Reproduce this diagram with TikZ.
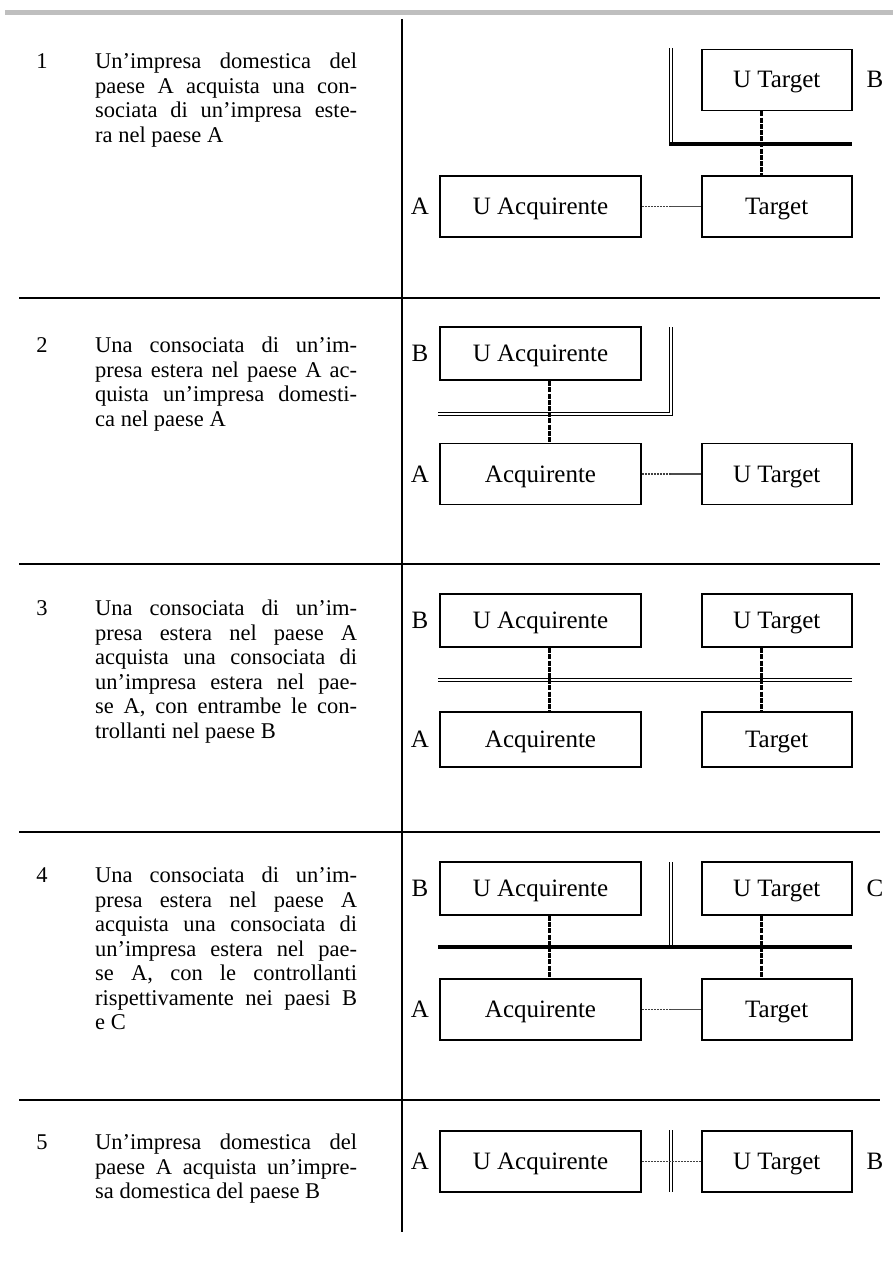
\documentclass[tikz,border=0pt]{standalone}
\usepackage{fontspec}
\setmainfont{Liberation Serif}
\usetikzlibrary{calc}
\tikzset{
  box/.style={draw, line width=1.8pt, inner sep=0pt, font=\fontsize{25}{28}\selectfont, text height=19pt, text depth=3pt},
  lbox/.style={box, minimum width=201pt, minimum height=61pt},
  rbox/.style={box, minimum width=150pt, minimum height=61pt},
  ubox/.style={minimum height=53pt},
  ctry/.style={font=\fontsize{25}{28}\selectfont, inner sep=0pt, text height=19pt, text depth=3pt},
  num/.style={font=\fontsize{22.5}{24.5}\selectfont, anchor=north, inner sep=0pt, text height=15.4pt, text depth=0pt},
  desc/.style={font=\fontsize{22.5}{24.5}\selectfont, anchor=north west, inner sep=0pt, text width=262pt, align=justify},
  sep/.style={line width=2pt},
  vlink/.style={line width=3pt, dash pattern=on 5pt off 1.2pt},
  dotlink/.style={line width=1.4pt, black!75, dash pattern=on 0.9pt off 0.6pt},
  sollink/.style={line width=1.4pt, black!70},
  thickbar/.style={line width=4pt},
  dbl/.style={draw=black, line width=1pt, double=white, double distance=1.6pt},
}
\begin{document}
\begin{tikzpicture}[x=1pt,y=-1pt]
\useasboundingbox (0,0) rectangle (893,1268);
% frame
\fill[black!25] (5,10) rectangle (893,15);
\draw[sep] (402,19) -- (402,1232);
\draw[sep] (19,297.7) -- (880,297.7);
\draw[sep] (19,564) -- (880,564);
\draw[sep] (19,831.7) -- (880,831.7);
\draw[sep] (19,1100) -- (880,1100);

% ---------- row 1
\node[num] (n1) at (42,53) {1};
\node[desc] (d1) at (95,53) {Un’impresa domestica del\linebreak paese A acquista una con-\linebreak sociata di un’impresa este-\linebreak ra nel paese A};
\node[rbox] (ut1) at (776.7,80) {U Target};
\node[ctry] (lb1) at (875,80) {B};
\node[lbox] (ua1) at (540.5,206.5) {U Acquirente};
\node[rbox] (t1) at (776.7,206.5) {Target};
\node[ctry] (la1) at (420,206.5) {A};
\draw[dbl] (670.7,48) -- (670.7,142.5);
\draw[thickbar] (669,144) -- (852,144);
\draw[vlink] ([xshift=-15pt]ut1.south) -- ([xshift=-15pt]t1.north);
\coordinate (m1) at ($(ua1.east)!0.5!(t1.west)$);
\draw[dotlink] (ua1.east) -- (m1);
\draw[sollink] (m1) -- (t1.west);

% ---------- row 2
\node[num] (n2) at (42,337) {2};
\node[desc] (d2) at (95,337) {Una consociata di un’im-\linebreak presa estera nel paese A ac-\linebreak quista un’impresa domesti-\linebreak ca nel paese A};
\node[lbox,ubox] (ua2) at (540.5,353.7) {U Acquirente};
\node[ctry] (lb2) at (420,353.7) {B};
\node[lbox] (a2) at (540.5,474) {Acquirente};
\node[rbox] (ut2) at (776.7,474) {U Target};
\node[ctry] (la2) at (420,474) {A};
\draw[dbl] (438,414) -- (670.7,414) -- (670.7,327);
\draw[vlink] ([xshift=9pt]ua2.south) -- ([xshift=9pt]a2.north);
\coordinate (m2) at ($(a2.east)!0.5!(ut2.west)$);
\draw[dotlink] (a2.east) -- (m2);
\draw[sollink] (m2) -- (ut2.west);

% ---------- row 3
\node[num] (n3) at (42,600) {3};
\node[desc] (d3) at (95,600) {Una consociata di un’im-\linebreak presa estera nel paese A\linebreak acquista una consociata di\linebreak un’impresa estera nel pae-\linebreak se A, con entrambe le con-\linebreak trollanti nel paese B};
\node[lbox,ubox] (ua3) at (540.5,620.7) {U Acquirente};
\node[rbox,ubox] (ut3) at (776.7,620.7) {U Target};
\node[ctry] (lb3) at (420,620.7) {B};
\node[lbox,minimum height=55.6pt] (a3) at (540.5,739.5) {Acquirente};
\node[rbox,minimum height=55.6pt] (t3) at (776.7,739.5) {Target};
\node[ctry] (la3) at (420,739.5) {A};
\draw[dbl] (438,680) -- (852,680);
\draw[vlink] ([xshift=9pt]ua3.south) -- ([xshift=9pt]a3.north);
\draw[vlink] ([xshift=-15pt]ut3.south) -- ([xshift=-15pt]t3.north);

% ---------- row 4
\node[num] (n4) at (42,867) {4};
\node[desc] (d4) at (95,867) {Una consociata di un’im-\linebreak presa estera nel paese A\linebreak acquista una consociata di\linebreak un’impresa estera nel pae-\linebreak se A, con le controllanti\linebreak rispettivamente nei paesi B\linebreak e C};
\node[lbox,ubox] (ua4) at (540.5,888.5) {U Acquirente};
\node[rbox,ubox] (ut4) at (776.7,888.5) {U Target};
\node[ctry] (lb4) at (420,888.5) {B};
\node[ctry] (lc4) at (875,888.5) {C};
\node[lbox] (a4) at (540.5,1009.5) {Acquirente};
\node[rbox] (t4) at (776.7,1009.5) {Target};
\node[ctry] (la4) at (420,1009.5) {A};
\draw[dbl] (671,862) -- (671,945);
\draw[thickbar] (438,946.7) -- (852,946.7);
\draw[vlink] ([xshift=9pt]ua4.south) -- ([xshift=9pt]a4.north);
\draw[vlink] ([xshift=-15pt]ut4.south) -- ([xshift=-15pt]t4.north);
\coordinate (m4) at ($(a4.east)!0.5!(t4.west)$);
\draw[dotlink] (a4.east) -- (m4);
\draw[sollink] (m4) -- (t4.west);

% ---------- row 5
\node[num] (n5) at (42,1134) {5};
\node[desc] (d5) at (95,1134) {Un’impresa domestica del\linebreak paese A acquista un’impre-\linebreak sa domestica del paese B};
\node[lbox] (ua5) at (540.5,1161.5) {U Acquirente};
\node[rbox] (ut5) at (776.7,1161.5) {U Target};
\node[ctry] (la5) at (420,1161.5) {A};
\node[ctry] (lb5) at (875,1161.5) {B};
\draw[dbl] (671,1130) -- (671,1192);
\draw[dotlink] (ua5.east) -- (ut5.west);
\end{tikzpicture}
\end{document}
